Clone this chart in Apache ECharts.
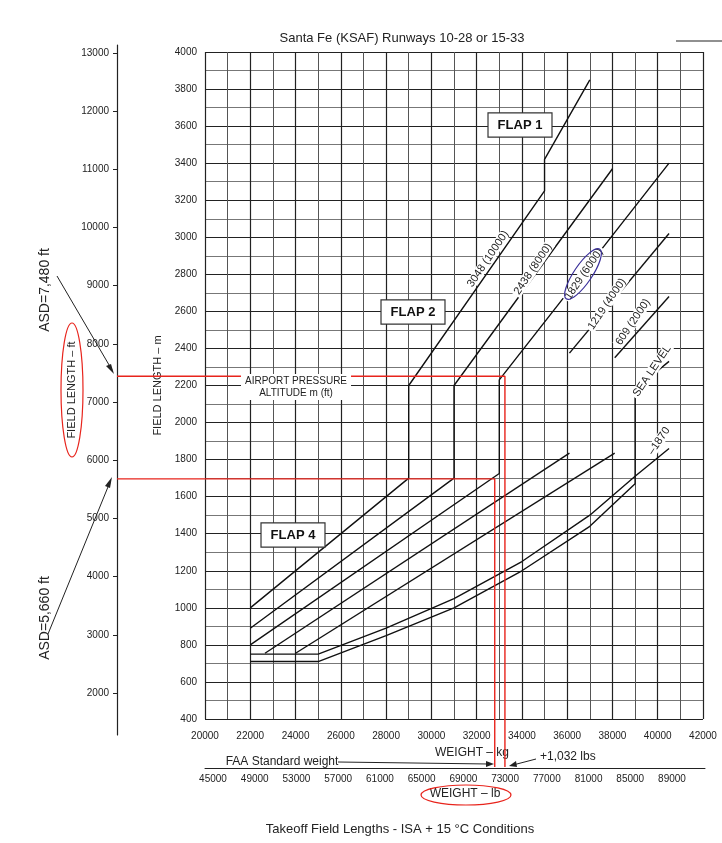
<!DOCTYPE html>
<html>
<head>
<meta charset="utf-8">
<script src="https://cdn.jsdelivr.net/npm/echarts@6/dist/echarts.min.js"></script>
<style>
  html, body { margin: 0; padding: 0; background: #fff; }
  #chart { width: 722px; height: 843px; }
</style>
</head>
<body>
<div id="chart"></div>
<script>
// altitude curves: [weight kg, field length m]
var alt10000 = [[22000, 1000], [29000, 1700], [29000, 2200], [35000, 3250], [35000, 3420], [37000, 3850]];
var alt8000 = [[22000, 890], [31000, 1700], [31000, 2200], [38000, 3370]];
var alt6000 = [[22000, 800], [33000, 1725], [33000, 2230], [40500, 3400]];
var alt4000a = [[22650, 755], [36100, 1835]];
var alt4000b = [[36100, 2375], [40500, 3020]];
var alt2000a = [[24000, 755], [38100, 1835]];
var alt2000b = [[38100, 2350], [40500, 2680]];
var altSea = [[22000, 710], [25000, 710], [28000, 850], [31000, 1000], [34000, 1200], [37000, 1440], [39000, 1670], [39000, 2180], [40500, 2330]];
var altMinus = [[22000, 750], [25000, 750], [28000, 890], [31000, 1050], [34000, 1250], [37000, 1500], [39000, 1710], [40500, 1860]];
// ASD reading lines (weight kg, field length m); 0 = run off to the chart edge
var asdHigh = [[0, 2250], [33250, 2250], [33250, 0]];
var asdLow = [[0, 1696], [32800, 1696], [32800, 0]];
var ftTicks = [2000, 3000, 4000, 5000, 6000, 7000, 8000, 9000, 10000, 11000, 12000, 13000];
var lbTicks = [45000, 49000, 53000, 57000, 61000, 65000, 69000, 73000, 77000, 81000, 85000, 89000];

var FONT = "Liberation Sans, Arial, sans-serif";
var chart = echarts.init(document.getElementById("chart"));

var redX0 = 16113, redY0 = 141;
function fixRed(arr) {
  return arr.map(function (p) { return [p[0] === 0 ? redX0 : p[0], p[1] === 0 ? redY0 : p[1]]; });
}
function plain(v) { return String(v); }

function blackLine(d) {
  return { type: "line", data: d, xAxisIndex: 0, yAxisIndex: 0, symbol: "none",
    lineStyle: { color: "#111", width: 1.4 }, z: 5, animation: false };
}

function rotText(x, y, txt, size) {
  return { type: "text", x: x, y: y, rotation: 56 * Math.PI / 180, z: 10,
    style: { text: txt, fill: "#222", font: (size || 11) + "px " + FONT, align: "center", verticalAlign: "middle",
      backgroundColor: "#fff", padding: [0, 2] } };
}
function flapBox(x, y, txt) {
  return { type: "text", x: x, y: y, z: 10,
    style: { text: txt, fill: "#111", font: "bold 13px " + FONT, align: "center", verticalAlign: "middle",
      backgroundColor: "#fff", borderColor: "#333", borderWidth: 1.2, padding: [5, 9] } };
}

var option = {
  backgroundColor: "#fff",
  animation: false,
  grid: [
    { left: 205, right: 19, top: 52, bottom: 124 },
    { left: 117, right: 605, top: 45, bottom: 108 },
    { left: 205, right: 17, top: 760, bottom: 75 },
    { left: 117, right: 19, top: 52, bottom: 76 }
  ],
  xAxis: [
    { type: "value", gridIndex: 0, min: 20000, max: 42000, interval: 2000,
      axisLine: { show: false }, axisTick: { show: false },
      axisLabel: { color: "#222", fontSize: 10, fontFamily: FONT, margin: 12, formatter: plain },
      splitLine: { lineStyle: { color: "#222", width: 1.2 } },
      minorTick: { show: false, splitNumber: 2 },
      minorSplitLine: { show: true, lineStyle: { color: "#555", width: 1 } } },
    { type: "value", gridIndex: 1, show: false, min: 0, max: 1 },
    { type: "value", gridIndex: 2, min: 44233, max: 92164, position: "bottom",
      axisLine: { show: true, onZero: false, lineStyle: { color: "#222" } },
      axisTick: { show: false },
      axisLabel: { color: "#222", fontSize: 10, fontFamily: FONT, margin: 6, customValues: lbTicks, formatter: plain },
      splitLine: { show: false } },
    { type: "value", gridIndex: 3, show: false, min: redX0, max: 42000 }
  ],
  yAxis: [
    { type: "value", gridIndex: 0, min: 400, max: 4000, interval: 200,
      name: "FIELD LENGTH – m", nameLocation: "middle", nameGap: 38, nameRotate: 90,
      nameTextStyle: { color: "#222", fontSize: 11, fontFamily: FONT },
      axisLine: { show: false }, axisTick: { show: false },
      axisLabel: { color: "#222", fontSize: 10, fontFamily: FONT, margin: 8, formatter: plain },
      splitLine: { lineStyle: { color: "#222", width: 1.2 } },
      minorTick: { show: false, splitNumber: 2 },
      minorSplitLine: { show: true, lineStyle: { color: "#777", width: 1 } } },
    { type: "value", gridIndex: 1, min: 1278, max: 13137,
      axisLine: { show: true, lineStyle: { color: "#222", width: 1.2 } },
      axisTick: { show: true, length: 4, customValues: ftTicks, lineStyle: { color: "#222" } },
      axisLabel: { color: "#222", fontSize: 10, fontFamily: FONT, margin: 8, customValues: ftTicks, formatter: plain },
      splitLine: { show: false } },
    { type: "value", gridIndex: 2, show: false, min: 0, max: 1 },
    { type: "value", gridIndex: 3, show: false, min: redY0, max: 4000 }
  ],
  series: [
    blackLine(alt10000), blackLine(alt8000), blackLine(alt6000),
    blackLine(alt4000a), blackLine(alt4000b), blackLine(alt2000a), blackLine(alt2000b),
    blackLine(altSea), blackLine(altMinus),
    { type: "line", data: fixRed(asdHigh), xAxisIndex: 3, yAxisIndex: 3, symbol: "none", clip: false,
      lineStyle: { color: "#e8241c", width: 1.4 }, z: 6 },
    { type: "line", data: fixRed(asdLow), xAxisIndex: 3, yAxisIndex: 3, symbol: "none", clip: false,
      lineStyle: { color: "#e8241c", width: 1.4 }, z: 6 }
  ],
  graphic: [
    { type: "text", x: 402, y: 38, style: { text: "Santa Fe (KSAF) Runways 10-28 or 15-33", fill: "#222",
      font: "13px " + FONT, align: "center", verticalAlign: "middle" } },
    { type: "line", shape: { x1: 676, y1: 41, x2: 722, y2: 41 }, style: { stroke: "#222", lineWidth: 1.2 } },
    { type: "text", x: 400, y: 829, style: { text: "Takeoff Field Lengths - ISA + 15 °C Conditions", fill: "#222",
      font: "13px " + FONT, align: "center", verticalAlign: "middle" } },
    flapBox(520, 125, "FLAP 1"), flapBox(413, 312, "FLAP 2"), flapBox(293, 535, "FLAP 4"),
    { type: "text", x: 296, y: 387, z: 10, style: { text: "AIRPORT PRESSURE\nALTITUDE m (ft)", fill: "#222",
      font: "10px " + FONT, align: "center", verticalAlign: "middle", backgroundColor: "#fff", padding: [1, 4], lineHeight: 12 } },
    rotText(488, 259, "3048 (10000)"), rotText(533, 269, "2438 (8000)"), rotText(584, 274, "1829 (6000)"),
    rotText(607, 304, "1219 (4000)"), rotText(633, 322, "609 (2000)"), rotText(652, 371, "SEA LEVEL"),
    rotText(659, 441, "–1870"),
    { type: "ellipse", x: 583, y: 274, rotation: 56 * Math.PI / 180, z: 11,
      shape: { cx: 0, cy: 0, rx: 30, ry: 9 }, style: { fill: "none", stroke: "#3a2f9a", lineWidth: 1.2 } },
    // left ft axis texts
    { type: "text", x: 72, y: 390, rotation: Math.PI / 2, style: { text: "FIELD LENGTH – ft", fill: "#222",
      font: "11px " + FONT, align: "center", verticalAlign: "middle" } },
    { type: "ellipse", x: 72, y: 390, z: 11, shape: { cx: 0, cy: 0, rx: 11, ry: 67 },
      style: { fill: "none", stroke: "#e8241c", lineWidth: 1.2 } },
    { type: "text", x: 45, y: 290, rotation: Math.PI / 2, style: { text: "ASD=7,480 ft", fill: "#222",
      font: "14px " + FONT, align: "center", verticalAlign: "middle" } },
    { type: "text", x: 45, y: 618, rotation: Math.PI / 2, style: { text: "ASD=5,660 ft", fill: "#222",
      font: "14px " + FONT, align: "center", verticalAlign: "middle" } },
    { type: "line", shape: { x1: 57, y1: 276, x2: 112, y2: 370 }, style: { stroke: "#222", lineWidth: 1 } },
    { type: "polygon", shape: { points: [[114, 374], [106, 366], [111, 364]] }, style: { fill: "#222" } },
    { type: "line", shape: { x1: 48, y1: 634, x2: 110, y2: 482 }, style: { stroke: "#222", lineWidth: 1 } },
    { type: "polygon", shape: { points: [[112, 477], [105, 486], [110, 488]] }, style: { fill: "#222" } },
    // weight labels
    { type: "text", x: 472, y: 753, style: { text: "WEIGHT – kg", fill: "#222", font: "12px " + FONT,
      align: "center", verticalAlign: "middle" } },
    { type: "text", x: 282, y: 762, style: { text: "FAA Standard weight", fill: "#222", font: "12px " + FONT,
      align: "center", verticalAlign: "middle" } },
    { type: "line", shape: { x1: 338, y1: 762, x2: 489, y2: 764 }, style: { stroke: "#222", lineWidth: 1 } },
    { type: "polygon", shape: { points: [[494, 764], [486, 761], [486, 767]] }, style: { fill: "#222" } },
    { type: "text", x: 540, y: 757, style: { text: "+1,032 lbs", fill: "#222", font: "12px " + FONT,
      align: "left", verticalAlign: "middle" } },
    { type: "line", shape: { x1: 536, y1: 759, x2: 513, y2: 765 }, style: { stroke: "#222", lineWidth: 1 } },
    { type: "polygon", shape: { points: [[509, 766], [516, 761], [517, 767]] }, style: { fill: "#222" } },
    { type: "text", x: 465, y: 794, style: { text: "WEIGHT – lb", fill: "#222", font: "12px " + FONT,
      align: "center", verticalAlign: "middle" } },
    { type: "ellipse", x: 466, y: 795, z: 11, shape: { cx: 0, cy: 0, rx: 45, ry: 10 },
      style: { fill: "none", stroke: "#e8241c", lineWidth: 1.2 } }
  ]
};
chart.setOption(option);
</script>
</body>
</html>
